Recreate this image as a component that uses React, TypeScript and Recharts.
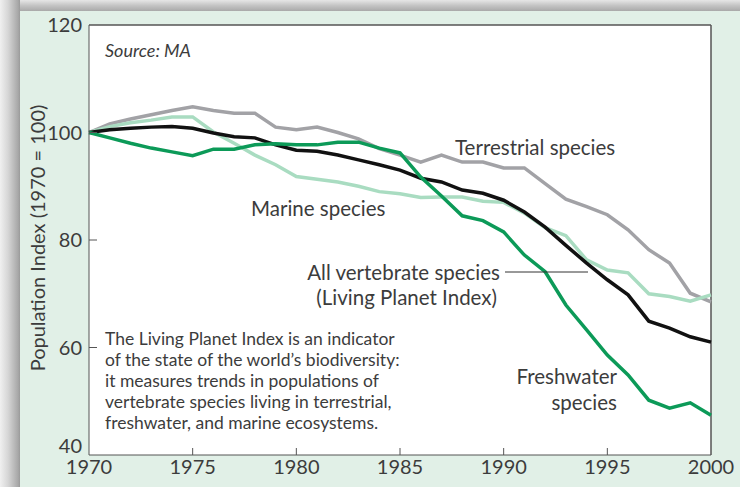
import React from "react";
import { LineChart, Line, XAxis, YAxis, CartesianGrid, ReferenceLine } from "recharts";

const years = [
  1970, 1971, 1972, 1973, 1974, 1975, 1976, 1977, 1978, 1979, 1980, 1981, 1982, 1983, 1984, 1985,
  1986, 1987, 1988, 1989, 1990, 1991, 1992, 1993, 1994, 1995, 1996, 1997, 1998, 1999, 2000,
];

const terrestrial = [
  100, 101.6, 102.5, 103.3, 104.1, 104.8, 104.1, 103.6, 103.6, 101, 100.5, 101, 100, 98.8, 97, 95.8,
  94.5, 95.8, 94.5, 94.5, 93.4, 93.4, 90.5, 87.6, 86.2, 84.7, 81.9, 78.2, 75.7, 70.1, 68.5,
];

const marine = [
  100, 101.1, 101.8, 102.3, 102.9, 102.9, 100.1, 98, 95.8, 94, 91.8, 91.3, 90.8, 90, 89, 88.6,
  87.9, 88, 88, 87.2, 87, 85, 82.3, 80.8, 76.3, 74.4, 73.9, 70, 69.5, 68.6, 69.8,
];

const allSpecies = [
  100, 100.5, 100.8, 101, 101.1, 100.8, 99.9, 99.2, 99, 97.7, 96.7, 96.5, 95.8, 94.9, 94, 93,
  91.5, 90.8, 89.3, 88.7, 87.4, 85.2, 82.4, 79, 75.7, 72.6, 69.8, 64.9, 63.6, 62, 61,
];

const freshwater = [
  100, 99, 98, 97.1, 96.4, 95.7, 96.9, 96.9, 97.7, 97.9, 97.7, 97.7, 98.2, 98.2, 97.1, 96.2,
  91.7, 88.2, 84.5, 83.6, 81.5, 77.2, 74.1, 67.9, 63.3, 58.6, 54.9, 50.2, 48.7, 49.7, 47.4,
];

const xTicks = [1970, 1975, 1980, 1985, 1990, 1995, 2000];
const yTicks = [40, 60, 80, 100, 120];

const data = years.map((y, i) => ({
  year: y,
  terrestrial: terrestrial[i],
  marine: marine[i],
  all: allSpecies[i],
  freshwater: freshwater[i],
}));

const FONT = "Lato, 'Open Sans', sans-serif";
const TEXT = "#3c3c3c";

const XTick = (props: any) => {
  const { x, y, payload } = props;
  const v = payload.value;
  const axisY = y - 8;
  return (
    <g>
      {v !== 1970 && v !== 2000 && (
        <line x1={x} x2={x} y1={axisY} y2={axisY - 7} stroke="#555" strokeWidth={1} />
      )}
      <text x={x} y={axisY + 19} textAnchor="middle" fontSize={20} fill={TEXT} fontFamily={FONT}>
        {v}
      </text>
    </g>
  );
};

const YTick = (props: any) => {
  const { x, y, payload } = props;
  const v = payload.value;
  const axisX = x + 8;
  // the bottom label sits above the x-axis labels
  const dy = v === 40 ? -2 : 7;
  return (
    <g>
      {v !== 40 && v !== 120 && (
        <line x1={axisX} x2={axisX + 8} y1={y} y2={y} stroke="#555" strokeWidth={1} />
      )}
      <text x={axisX - 7} y={y + dy} textAnchor="end" fontSize={20} fill={TEXT} fontFamily={FONT}>
        {v}
      </text>
    </g>
  );
};

export default function App() {
  return (
    <div style={{ position: "absolute", left: 0, top: 0, width: 740, height: 487, background: "#f2f2f2", overflow: "hidden" }}>
      <div
        style={{
          position: "absolute", left: 0, top: 0, width: 740, height: 11,
          background: "linear-gradient(to bottom, #e6e6e6 0%, #c4c4c4 50%, #a9a9a9 100%)",
        }}
      />
      <div
        style={{
          position: "absolute", left: 0, top: 0, width: 20, height: 487,
          background: "linear-gradient(to right, #f0f0f0 0%, #d6d6d6 40%, #a8a8a8 90%, #9a9a9a 100%)",
        }}
      />
      <div style={{ position: "absolute", left: 20, top: 11, width: 720, height: 476, background: "#e1f0e7" }} />
      <div style={{ position: "absolute", left: 0, top: 0 }}>
        <LineChart
          width={740}
          height={487}
          data={data}
          margin={{ top: 25, right: 29, left: 29, bottom: 2 }}
        >
          <CartesianGrid fill="#ffffff" horizontal={false} vertical={false} />
          <XAxis
            dataKey="year"
            type="number"
            domain={[1970, 2000]}
            ticks={xTicks}
            height={30}
            stroke="#555"
            tickLine={false}
            tick={<XTick />}
            interval={0}
          />
          <YAxis
            type="number"
            domain={[40, 120]}
            ticks={yTicks}
            width={60}
            stroke="#555"
            tickLine={false}
            tick={<YTick />}
            interval={0}
          />
          <ReferenceLine y={120} stroke="#555" strokeWidth={1.5} />
          <ReferenceLine x={2000} stroke="#555" strokeWidth={1.5} />
          <Line type="linear" dataKey="terrestrial" stroke="#a2a2a6" strokeWidth={3.5} dot={false} isAnimationActive={false} />
          <Line type="linear" dataKey="marine" stroke="#a9dcc1" strokeWidth={3.5} dot={false} isAnimationActive={false} />
          <Line type="linear" dataKey="all" stroke="#111111" strokeWidth={3.5} dot={false} isAnimationActive={false} />
          <Line type="linear" dataKey="freshwater" stroke="#0c9a58" strokeWidth={3.5} dot={false} isAnimationActive={false} />
        </LineChart>
      </div>
      <svg
        width={740}
        height={487}
        style={{ position: "absolute", left: 0, top: 0, pointerEvents: "none" }}
        fontFamily={FONT}
        fill={TEXT}
      >
        <text x={37} y={238} transform="rotate(-90 37 238)" textAnchor="middle" dominantBaseline="central" fontSize={20}>
          Population Index (1970 = 100)
        </text>
        <text x={105} y={57} fontSize={18} fontStyle="italic">Source: MA</text>
        <text x={455} y={155} fontSize={20.5}>Terrestrial species</text>
        <text x={251} y={216} fontSize={20.5}>Marine species</text>
        <text x={500} y={280} fontSize={20.5} textAnchor="end">All vertebrate species</text>
        <text x={497} y={305} fontSize={20.5} textAnchor="end">(Living Planet Index)</text>
        <line x1={505} x2={588} y1={272} y2={272} stroke="#333" strokeWidth={1} />
        <text x={617} y={384} fontSize={20.5} textAnchor="end">Freshwater</text>
        <text x={617} y={410} fontSize={20.5} textAnchor="end">species</text>
        <text fontSize={17.5}>
          <tspan x={105} y={345}>The Living Planet Index is an indicator</tspan>
          <tspan x={105} y={366}>of the state of the world’s biodiversity:</tspan>
          <tspan x={105} y={387}>it measures trends in populations of</tspan>
          <tspan x={105} y={408}>vertebrate species living in terrestrial,</tspan>
          <tspan x={105} y={429}>freshwater, and marine ecosystems.</tspan>
        </text>
      </svg>
    </div>
  );
}
